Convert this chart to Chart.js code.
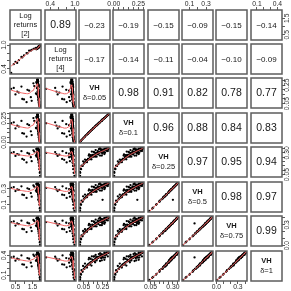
<!DOCTYPE html>
<html>
<head>
<meta charset="utf-8">
<script src="https://cdn.jsdelivr.net/npm/chart.js@4.4.0/dist/chart.umd.min.js"></script>
<style>
  body { margin: 0; background: #fff; }
  #wrap { position: relative; width: 291px; height: 291px; overflow: hidden; }
  #wrap canvas { position: absolute; }
</style>
</head>
<body>
<div id="wrap"></div>
<script>
// variable names on the diagonal
const varLabels = [
  ['Log', 'returns', '[2]'],
  ['Log', 'returns', '[4]'],
  ['VH', 'δ=0.05'],
  ['VH', 'δ=0.1'],
  ['VH', 'δ=0.25'],
  ['VH', 'δ=0.5'],
  ['VH', 'δ=0.75'],
  ['VH', 'δ=1']
];

const logRet2 = [0.25, 0.50, 0.70, 0.90, 1.00, 1.15, 1.30, 1.45, 1.60, 1.83,
  1.94, 1.92, 1.94, 1.90, 1.93, 1.88, 1.91, 1.86, 1.90, 1.85, 1.89, 1.84, 1.87, 1.83, 1.88, 1.86, 1.82, 1.85, 1.87, 1.80,
  1.85, 1.84, 1.86, 1.81, 1.84, 1.83, 1.80, 1.85, 1.82, 1.79, 1.83, 1.80, 1.82, 1.79, 1.81, 1.78, 1.80, 1.78, 1.79,
  1.90, 1.86, 1.89, 1.84, 1.88, 1.83, 1.87, 1.74, 1.87, 1.84, 1.80, 1.86, 1.82, 1.85, 1.76, 1.83, 1.86, 1.80, 1.84, 1.81,
  1.85, 1.79, 1.82, 1.80, 1.72, 1.83, 1.80, 1.79, 1.81, 1.89, 1.92, 1.88, 1.86, 1.82, 1.84, 1.75, 1.82, 1.87, 1.85, 1.83,
  0.40, 0.60, 0.85, 1.20, 1.40, 1.55, 1.70];
const logRet4 = [0.30, 0.58, 0.62, 0.69, 0.74, 0.80, 0.86, 0.88, 0.91, 0.945,
  0.99, 0.97, 1.00, 0.96, 0.985, 0.955, 0.975, 0.945, 0.97, 0.95, 0.96, 0.935, 0.965, 0.945, 0.955, 0.96, 0.93, 0.94, 0.965, 0.925,
  0.955, 0.95, 0.945, 0.935, 0.94, 0.95, 0.92, 0.955, 0.93, 0.93, 0.935, 0.935, 0.94, 0.92, 0.93, 0.925, 0.92, 0.915, 0.93,
  0.97, 0.95, 0.965, 0.945, 0.96, 0.94, 0.955, 0.905, 0.96, 0.95, 0.925, 0.955, 0.94, 0.95, 0.91, 0.945, 0.96, 0.93, 0.94, 0.935,
  0.955, 0.925, 0.945, 0.93, 0.895, 0.94, 0.92, 0.92, 0.935, 0.965, 0.985, 0.96, 0.955, 0.94, 0.95, 0.905, 0.94, 0.96, 0.955, 0.945,
  0.52, 0.55, 0.70, 0.79, 0.86, 0.90, 0.93];
const vh005 = [0.21, 0.15, 0.17, 0.10, 0.095, 0.065, 0.19, 0.08, 0.24, 0.25,
  0.013, 0.015, 0.012, 0.024, 0.020, 0.040, 0.036, 0.058, 0.052, 0.080, 0.072, 0.098, 0.092, 0.122, 0.110, 0.138, 0.128, 0.160, 0.148, 0.175,
  0.168, 0.198, 0.185, 0.215, 0.200, 0.235, 0.220, 0.245, 0.238, 0.265, 0.252, 0.278, 0.268, 0.292, 0.282, 0.305, 0.298, 0.315, 0.310,
  0.065, 0.086, 0.104, 0.116, 0.124, 0.133, 0.142, 0.151, 0.161, 0.171, 0.182, 0.187, 0.199, 0.205, 0.217, 0.223, 0.229, 0.235, 0.242, 0.248,
  0.255, 0.262, 0.269, 0.276, 0.283, 0.290, 0.297, 0.305, 0.312, 0.045, 0.029, 0.108, 0.156, 0.211, 0.242, 0.269, 0.290, 0.177, 0.137, 0.223,
  0.22, 0.18, 0.235, 0.20, 0.12, 0.27, 0.16];
const vh01 = [0.20, 0.145, 0.165, 0.095, 0.09, 0.06, 0.18, 0.076, 0.225, 0.24,
  0.004, 0.006, 0.004, 0.016, 0.014, 0.033, 0.031, 0.052, 0.048, 0.075, 0.070, 0.092, 0.088, 0.115, 0.106, 0.130, 0.125, 0.152, 0.142, 0.168,
  0.160, 0.188, 0.176, 0.205, 0.192, 0.222, 0.210, 0.232, 0.226, 0.250, 0.240, 0.262, 0.252, 0.275, 0.265, 0.286, 0.280, 0.296, 0.292,
  0.061, 0.082, 0.100, 0.111, 0.119, 0.128, 0.136, 0.146, 0.155, 0.164, 0.174, 0.179, 0.190, 0.196, 0.206, 0.212, 0.218, 0.224, 0.229, 0.236,
  0.242, 0.248, 0.254, 0.260, 0.267, 0.273, 0.280, 0.287, 0.293, 0.041, 0.023, 0.104, 0.150, 0.201, 0.229, 0.254, 0.273, 0.170, 0.132, 0.212,
  0.21, 0.175, 0.225, 0.19, 0.115, 0.255, 0.15];
const vh025 = [0.30, 0.265, 0.28, 0.23, 0.22, 0.19, 0.29, 0.205, 0.315, 0.30,
  0.035, 0.070, 0.080, 0.112, 0.118, 0.150, 0.150, 0.185, 0.172, 0.215, 0.195, 0.232, 0.218, 0.250, 0.232, 0.262, 0.245, 0.278, 0.258, 0.285,
  0.270, 0.300, 0.282, 0.310, 0.290, 0.318, 0.305, 0.325, 0.312, 0.335, 0.318, 0.340, 0.328, 0.345, 0.335, 0.350, 0.342, 0.355, 0.348,
  0.223, 0.193, 0.269, 0.226, 0.273, 0.226, 0.276, 0.256, 0.306, 0.256, 0.299, 0.256, 0.319, 0.282, 0.312, 0.269, 0.339, 0.306, 0.339, 0.292,
  0.335, 0.309, 0.348, 0.302, 0.345, 0.325, 0.358, 0.322, 0.345, 0.203, 0.154, 0.282, 0.312, 0.342, 0.269, 0.286, 0.356, 0.332, 0.315, 0.355,
  0.31, 0.285, 0.32, 0.30, 0.25, 0.33, 0.27];
const vh05 = [0.31, 0.27, 0.285, 0.225, 0.22, 0.185, 0.295, 0.20, 0.325, 0.16,
  0.022, 0.052, 0.062, 0.098, 0.105, 0.138, 0.140, 0.175, 0.165, 0.205, 0.190, 0.228, 0.215, 0.248, 0.232, 0.262, 0.250, 0.280, 0.262, 0.292,
  0.275, 0.305, 0.290, 0.318, 0.298, 0.328, 0.312, 0.335, 0.322, 0.345, 0.330, 0.352, 0.340, 0.360, 0.348, 0.366, 0.356, 0.370, 0.362,
  0.226, 0.194, 0.276, 0.230, 0.280, 0.225, 0.284, 0.262, 0.316, 0.262, 0.309, 0.262, 0.330, 0.291, 0.323, 0.276, 0.352, 0.316, 0.352, 0.302,
  0.348, 0.320, 0.363, 0.312, 0.359, 0.338, 0.374, 0.334, 0.359, 0.204, 0.150, 0.291, 0.323, 0.356, 0.276, 0.294, 0.372, 0.345, 0.327, 0.370,
  0.32, 0.29, 0.33, 0.305, 0.245, 0.34, 0.275];
const vh075 = [0.34, 0.29, 0.31, 0.24, 0.235, 0.195, 0.32, 0.21, 0.356, 0.32,
  0.010, 0.045, 0.058, 0.092, 0.104, 0.135, 0.145, 0.176, 0.175, 0.212, 0.205, 0.238, 0.230, 0.262, 0.250, 0.275, 0.270, 0.296, 0.285, 0.310,
  0.300, 0.330, 0.318, 0.345, 0.325, 0.355, 0.345, 0.365, 0.355, 0.378, 0.365, 0.388, 0.375, 0.398, 0.385, 0.405, 0.395, 0.412, 0.402,
  0.236, 0.199, 0.295, 0.240, 0.300, 0.240, 0.304, 0.278, 0.341, 0.278, 0.333, 0.278, 0.359, 0.312, 0.351, 0.295, 0.386, 0.341, 0.386, 0.325,
  0.380, 0.346, 0.399, 0.337, 0.394, 0.368, 0.414, 0.364, 0.394, 0.211, 0.148, 0.312, 0.351, 0.390, 0.295, 0.316, 0.410, 0.376, 0.355, 0.410,
  0.35, 0.32, 0.36, 0.33, 0.26, 0.37, 0.29];
const vh1 = [0.37, 0.32, 0.34, 0.265, 0.26, 0.22, 0.35, 0.235, 0.39, 0.37,
  0.030, 0.062, 0.075, 0.108, 0.122, 0.152, 0.165, 0.195, 0.198, 0.232, 0.228, 0.258, 0.255, 0.285, 0.278, 0.300, 0.298, 0.322, 0.318, 0.340,
  0.335, 0.360, 0.352, 0.378, 0.362, 0.388, 0.380, 0.398, 0.392, 0.412, 0.404, 0.425, 0.412, 0.435, 0.422, 0.442, 0.435, 0.450, 0.440,
  0.276, 0.217, 0.341, 0.262, 0.350, 0.247, 0.335, 0.321, 0.385, 0.297, 0.375, 0.324, 0.379, 0.363, 0.382, 0.316, 0.428, 0.359, 0.417, 0.376,
  0.412, 0.368, 0.444, 0.369, 0.410, 0.411, 0.448, 0.385, 0.435, 0.240, 0.176, 0.363, 0.382, 0.421, 0.326, 0.333, 0.446, 0.408, 0.386, 0.430,
  0.38, 0.35, 0.40, 0.36, 0.29, 0.41, 0.32];

const series = [logRet2, logRet4, vh005, vh01, vh025, vh05, vh075, vh1];

// axis ranges and ticks per variable
const axisMin = [0.18, 0.272, 0.002, -0.008, 0.022, 0.008, -0.006, 0.013];
const axisMax = [1.995, 1.028, 0.328, 0.308, 0.368, 0.384, 0.428, 0.467];
const tickVals = [
  [0.5, 1.0, 1.5],
  [0.4, 0.6, 0.8, 1.0],
  [0.05, 0.10, 0.15, 0.20, 0.25, 0.30],
  [0.00, 0.05, 0.10, 0.15, 0.20, 0.25, 0.30],
  [0.05, 0.10, 0.15, 0.20, 0.25, 0.30, 0.35],
  [0.1, 0.2, 0.3],
  [0.0, 0.1, 0.2, 0.3, 0.4],
  [0.1, 0.2, 0.3, 0.4]
];
const tickLabels = [
  [[0.5, '0.5'], [1.5, '1.5']],
  [[0.4, '0.4'], [1.0, '1.0']],
  [[0.05, '0.05'], [0.25, '0.25']],
  [[0.00, '0.00'], [0.25, '0.25']],
  [[0.05, '0.05'], [0.30, '0.30']],
  [[0.1, '0.1'], [0.3, '0.3']],
  [[0.0, '0.0'], [0.3, '0.3']],
  [[0.1, '0.1'], [0.4, '0.4']]
];

// correlations printed in the upper panels
const corrText = [
  ['0.89', '\u22120.23', '\u22120.19', '\u22120.15', '\u22120.09', '\u22120.15', '\u22120.14'],
  ['\u22120.17', '\u22120.14', '\u22120.11', '\u22120.04', '\u22120.10', '\u22120.09'],
  ['0.98', '0.91', '0.82', '0.78', '0.77'],
  ['0.96', '0.88', '0.84', '0.83'],
  ['0.97', '0.95', '0.94'],
  ['0.98', '0.97'],
  ['0.99']
];

const boxLeft = [10, 45, 79, 113, 148, 182, 216, 251];
const boxTop = [10, 44, 78, 113, 147, 182, 216, 251];
const boxW = 31, boxH = 30, M = 10;
const FONT = '"Liberation Sans", Arial, sans-serif';

// R style lowess (panel.smooth)
function lowess(xs, ys, f, iter) {
  const n = xs.length;
  const idx = xs.map((_, i) => i).sort((a, b) => xs[a] - xs[b]);
  const x = idx.map(i => xs[i]), y = idx.map(i => ys[i]);
  const r = Math.max(2, Math.min(n, Math.ceil(f * n)));
  let rw = new Array(n).fill(1);
  const fit = new Array(n).fill(0);
  for (let it = 0; it <= iter; it++) {
    for (let i = 0; i < n; i++) {
      const d = x.map(v => Math.abs(v - x[i]));
      const h = Math.max(d.slice().sort((a, b) => a - b)[r - 1], 1e-9) * 1.001;
      let sw = 0, sx = 0, sy = 0, sxx = 0, sxy = 0;
      for (let k = 0; k < n; k++) {
        const u = d[k] / h;
        if (u >= 1) continue;
        const w = Math.pow(1 - u * u * u, 3) * rw[k];
        sw += w; sx += w * x[k]; sy += w * y[k];
        sxx += w * x[k] * x[k]; sxy += w * x[k] * y[k];
      }
      if (sw <= 0) { fit[i] = y[i]; continue; }
      const mx = sx / sw, my = sy / sw, vx = sxx / sw - mx * mx;
      const b = vx > 1e-12 ? (sxy / sw - mx * my) / vx : 0;
      fit[i] = my + b * (x[i] - mx);
    }
    if (it === iter) break;
    const res = y.map((v, k) => Math.abs(v - fit[k]));
    const s = res.slice().sort((a, b) => a - b);
    const med = (s[Math.floor((n - 1) / 2)] + s[Math.ceil((n - 1) / 2)]) / 2;
    if (med < 1e-9) break;
    rw = res.map(e => { const u = e / (6 * med); return u < 1 ? Math.pow(1 - u * u, 2) : 0; });
  }
  return x.map((v, i) => ({ x: v, y: fit[i] }));
}

const panelDecor = {
  id: 'panelDecor',
  afterDraw(chart, args, o) {
    const ctx = chart.ctx, a = chart.chartArea;
    const cx = (a.left + a.right) / 2, cy = (a.top + a.bottom) / 2;
    ctx.save();
    ctx.strokeStyle = '#5c5c5c';
    ctx.lineWidth = 1.5;
    ctx.strokeRect(a.left, a.top, a.right - a.left, a.bottom - a.top);

    ctx.fillStyle = '#161616';
    ctx.textAlign = 'center';
    ctx.textBaseline = 'middle';
    if (o.kind === 'diag') {
      const lines = varLabels[o.v];
      const gap = lines.length === 3 ? 9 : 10;
      lines.forEach((t, k) => {
        const bold = lines.length === 2 && k === 0;
        ctx.font = (bold ? 'bold ' : '') + '7.5px ' + FONT;
        ctx.fillText(t, cx, cy + (k - (lines.length - 1) / 2) * gap);
      });
    } else if (o.kind === 'corr') {
      const neg = o.text.charAt(0) === '\u2212';
      ctx.font = (neg ? 8 : 10.5) + 'px ' + FONT;
      ctx.fillText(o.text, cx, cy + 0.5);
    }

    ctx.fillStyle = '#2a2a2a';
    ctx.font = '6.8px ' + FONT;
    if (o.top || o.bottom) {
      tickLabels[o.xv].forEach(([v, t]) => {
        const px = chart.scales.x.getPixelForValue(v);
        ctx.fillText(t, px, o.top ? a.top - 5.5 : a.bottom + 6.5);
      });
    }
    if (o.left || o.right) {
      tickLabels[o.yv].forEach(([v, t]) => {
        const py = chart.scales.y.getPixelForValue(v);
        ctx.save();
        ctx.translate(o.left ? a.left - 5.5 : a.right + 5.5, py);
        ctx.rotate(-Math.PI / 2);
        ctx.fillText(t, 0, 0);
        ctx.restore();
      });
    }
    ctx.restore();
  }
};

const wrap = document.getElementById('wrap');

function axisOpts(v, position, shown, horizontal) {
  return {
    type: 'linear',
    position: position,
    display: shown,
    min: axisMin[v],
    max: axisMax[v],
    afterBuildTicks: s => { s.ticks = tickVals[v].map(t => ({ value: t })); },
    afterFit: s => {
      const size = shown ? M : 0;
      if (horizontal) s.height = size; else s.width = size;
    },
    ticks: { display: false },
    grid: { display: true, drawOnChartArea: false, drawTicks: true, tickLength: 3, color: '#5c5c5c', lineWidth: 1 },
    border: { display: false }
  };
}

function makePanel(i, j) {
  const cv = document.createElement('canvas');
  cv.width = boxW + 2 * M;
  cv.height = boxH + 2 * M;
  cv.style.left = (boxLeft[j] - M) + 'px';
  cv.style.top = (boxTop[i] - M) + 'px';
  wrap.appendChild(cv);

  const top = i === 0 && j % 2 === 1;
  const bottom = i === 7 && j % 2 === 0;
  const left = j === 0 && i % 2 === 1;
  const right = j === 7 && i % 2 === 0;

  let kind = 'scatter', text = '';
  const datasets = [];
  if (i === j) kind = 'diag';
  else if (j > i) { kind = 'corr'; text = corrText[i][j - i - 1]; }
  else {
    const pts = series[j].map((xv, k) => ({ x: xv, y: series[i][k] }));
    datasets.push({
      data: lowess(series[j], series[i], 2 / 3, 3),
      showLine: true, borderColor: '#f26464', borderWidth: 1,
      pointRadius: 0, fill: false, tension: 0
    });
    datasets.push({
      data: pts, pointRadius: 1.15, pointHoverRadius: 0,
      backgroundColor: '#000', borderWidth: 0
    });
  }

  new Chart(cv, {
    type: 'scatter',
    data: { datasets: datasets },
    plugins: [panelDecor],
    options: {
      responsive: false,
      animation: false,
      devicePixelRatio: 1,
      events: [],
      layout: {
        autoPadding: false,
        padding: {
          top: top ? 0 : M, bottom: bottom ? 0 : M,
          left: left ? 0 : M, right: right ? 0 : M
        }
      },
      plugins: {
        legend: { display: false },
        tooltip: { enabled: false },
        panelDecor: { kind: kind, text: text, v: i, xv: j, yv: i, top, bottom, left, right }
      },
      scales: {
        x: axisOpts(j, top ? 'top' : 'bottom', top || bottom, true),
        y: axisOpts(i, right ? 'right' : 'left', left || right, false)
      }
    }
  });
}

for (let i = 0; i < 8; i++) {
  for (let j = 0; j < 8; j++) makePanel(i, j);
}
</script>
</body>
</html>
